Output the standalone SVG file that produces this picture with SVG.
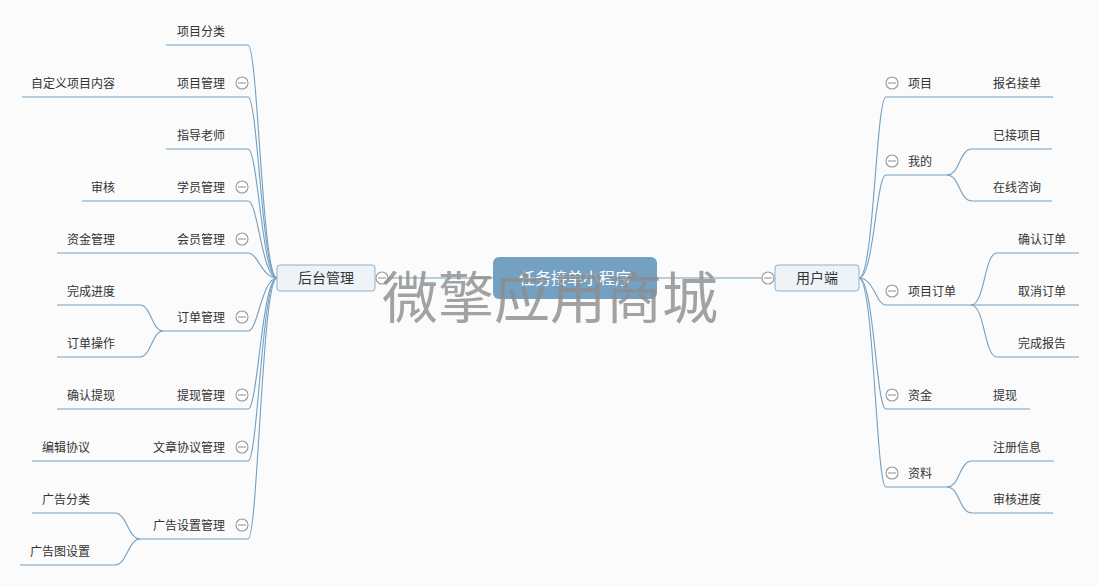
<svg xmlns="http://www.w3.org/2000/svg" width="1099" height="586" viewBox="0 0 1099 586">
<defs>
<style>
.bg{fill:#fbfbfb}
.ln{fill:none;stroke:#739fc1;stroke-width:1.1}
.t{font-family:"Noto Sans CJK SC","Liberation Sans",sans-serif;font-size:12px;fill:#333;dominant-baseline:central}
.e{text-anchor:end}
.c{text-anchor:middle}
.sub{fill:#eef3f8;stroke:#8eb0cb;stroke-width:1}
.wm{font-family:"Noto Sans CJK SC",sans-serif;font-size:56px;fill:#8c8c8c;fill-opacity:0.8;text-anchor:middle;dominant-baseline:central}
</style>
<g id="tg"><circle cx="0" cy="0" r="6" fill="#ffffff" stroke="#999999" stroke-width="1.1"/><path d="M-4,0H4" stroke="#999999" stroke-width="1.1"/></g>
</defs>
<rect class="bg" x="0" y="0" width="1099" height="586"/>
<g id="connectors">
<path class="ln" d="M388,278H762"/>
<path class="ln" d="M277,278C262,278 258,45 248,45H166"/>
<path class="ln" d="M277,278C262,278 258,97 248,97H22"/>
<path class="ln" d="M277,278C262,278 258,149 248,149H166"/>
<path class="ln" d="M277,278C262,278 258,201 248,201H82"/>
<path class="ln" d="M277,278C262,278 258,253 248,253H57"/>
<path class="ln" d="M277,278C262,278 258,331 248,331H163"/>
<path class="ln" d="M277,278C262,278 258,409 248,409H57"/>
<path class="ln" d="M277,278C262,278 258,461 248,461H32"/>
<path class="ln" d="M277,278C262,278 258,539 248,539H140"/>
<path class="ln" d="M163,331C152,331 151,305 140,305H57"/>
<path class="ln" d="M163,331C152,331 151,357 140,357H57"/>
<path class="ln" d="M140,539C128,539 127,513 115,513H32"/>
<path class="ln" d="M140,539C128,539 127,565 115,565H20"/>
<path class="ln" d="M859,278C874,278 876,97 886,97H1053"/>
<path class="ln" d="M859,278C874,278 876,175 886,175H947"/>
<path class="ln" d="M859,278C874,278 876,305 886,305H971"/>
<path class="ln" d="M859,278C874,278 876,409 886,409H1030"/>
<path class="ln" d="M859,278C874,278 876,487 886,487H947"/>
<path class="ln" d="M947,175C960,175 959,149 972,149H1052"/>
<path class="ln" d="M947,175C960,175 959,201 972,201H1052"/>
<path class="ln" d="M971,305C985,305 984,253 997,253H1079"/>
<path class="ln" d="M971,305H1079"/>
<path class="ln" d="M971,305C985,305 984,357 997,357H1079"/>
<path class="ln" d="M947,487C960,487 959,461 972,461H1054"/>
<path class="ln" d="M947,487C960,487 959,513 972,513H1053"/>
</g>
<g id="root">
<rect x="493" y="257" width="164" height="42" rx="6" fill="#74a0c2"/>
<text class="t c" x="575" y="277" style="font-size:16px;fill:#fff">任务接单小程序</text>
</g>
<g id="backend">
<rect class="sub" x="277" y="265" width="98" height="26" rx="3"/>
<text class="t c" x="326" y="277" style="font-size:14px">后台管理</text>
<use href="#tg" x="382" y="278"/>
</g>
<g id="userend">
<rect class="sub" x="775" y="265" width="84" height="26" rx="3"/>
<text class="t c" x="817" y="277" style="font-size:14px">用户端</text>
<use href="#tg" x="768" y="278"/>
</g>
<g id="left-nodes">
<g id="n-xmfl"><text class="t e" x="225" y="30">项目分类</text></g>
<g id="n-xmgl"><text class="t e" x="225" y="82">项目管理</text><use href="#tg" x="242" y="83"/></g>
<g id="n-zdy"><text class="t e" x="115" y="82">自定义项目内容</text></g>
<g id="n-zdls"><text class="t e" x="225" y="134">指导老师</text></g>
<g id="n-xygl"><text class="t e" x="225" y="186">学员管理</text><use href="#tg" x="242" y="187"/></g>
<g id="n-sh"><text class="t e" x="115" y="186">审核</text></g>
<g id="n-hygl"><text class="t e" x="225" y="238">会员管理</text><use href="#tg" x="242" y="239"/></g>
<g id="n-zjgl"><text class="t e" x="115" y="238">资金管理</text></g>
<g id="n-ddgl"><text class="t e" x="225" y="316">订单管理</text><use href="#tg" x="242" y="317"/></g>
<g id="n-wcjd"><text class="t e" x="115" y="290">完成进度</text></g>
<g id="n-ddcz"><text class="t e" x="115" y="342">订单操作</text></g>
<g id="n-txgl"><text class="t e" x="225" y="394">提现管理</text><use href="#tg" x="242" y="395"/></g>
<g id="n-qrtx"><text class="t e" x="115" y="394">确认提现</text></g>
<g id="n-wzxy"><text class="t e" x="225" y="446">文章协议管理</text><use href="#tg" x="242" y="447"/></g>
<g id="n-bjxy"><text class="t e" x="90" y="446">编辑协议</text></g>
<g id="n-ggsz"><text class="t e" x="225" y="524">广告设置管理</text><use href="#tg" x="242" y="525"/></g>
<g id="n-ggfl"><text class="t e" x="90" y="498">广告分类</text></g>
<g id="n-ggt"><text class="t e" x="90" y="550">广告图设置</text></g>
</g>
<g id="right-nodes">
<g id="n-xm"><use href="#tg" x="892" y="83"/><text class="t" x="908" y="82">项目</text></g>
<g id="n-bmjd"><text class="t" x="993" y="82">报名接单</text></g>
<g id="n-wd"><use href="#tg" x="892" y="161"/><text class="t" x="908" y="160">我的</text></g>
<g id="n-yjxm"><text class="t" x="993" y="134">已接项目</text></g>
<g id="n-zxzx"><text class="t" x="993" y="186">在线咨询</text></g>
<g id="n-xmdd"><use href="#tg" x="892" y="291"/><text class="t" x="908" y="290">项目订单</text></g>
<g id="n-qrdd"><text class="t" x="1018" y="238">确认订单</text></g>
<g id="n-qxdd"><text class="t" x="1018" y="290">取消订单</text></g>
<g id="n-wcbg"><text class="t" x="1018" y="342">完成报告</text></g>
<g id="n-zj"><use href="#tg" x="892" y="395"/><text class="t" x="908" y="394">资金</text></g>
<g id="n-tx"><text class="t" x="993" y="394">提现</text></g>
<g id="n-zl"><use href="#tg" x="892" y="473"/><text class="t" x="908" y="472">资料</text></g>
<g id="n-zcxx"><text class="t" x="993" y="446">注册信息</text></g>
<g id="n-shjd"><text class="t" x="993" y="498">审核进度</text></g>
</g>
<text class="wm" x="550" y="293">微擎应用商城</text>
</svg>
